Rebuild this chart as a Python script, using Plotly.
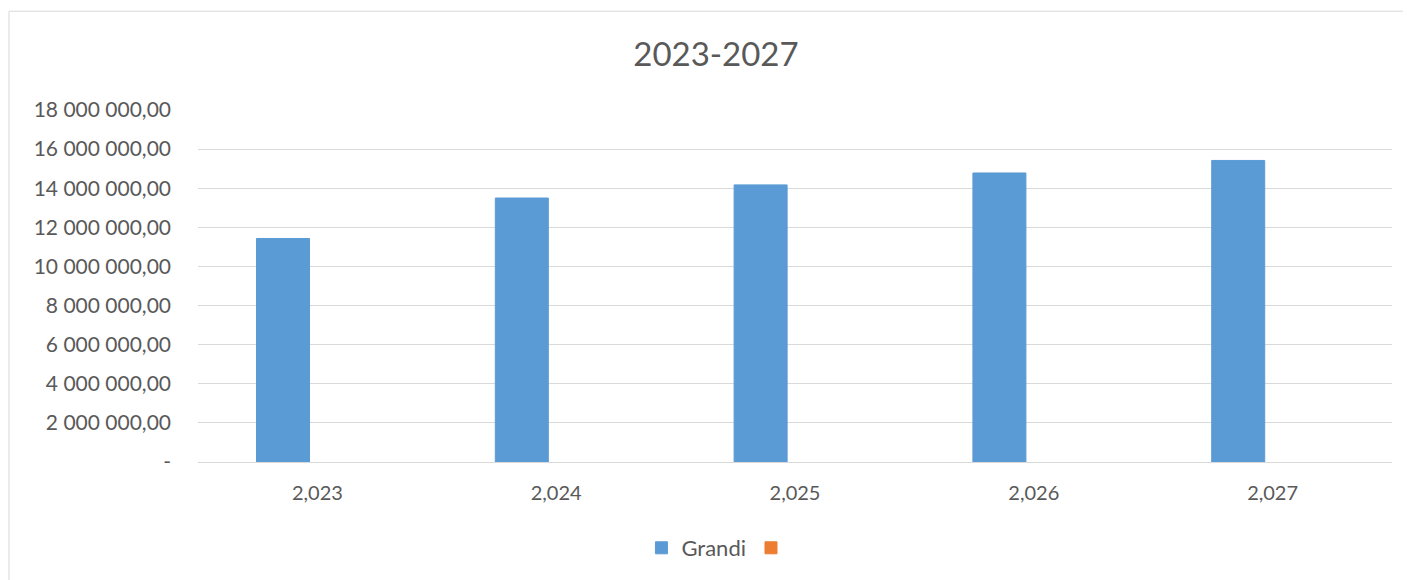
import plotly.graph_objects as go

# values
years = ["2,023", "2,024", "2,025", "2,026", "2,027"]
grandi = [11430000, 13500000, 14170000, 14780000, 15420000]
second = [None, None, None, None, None]

y_ticks = [0, 2e6, 4e6, 6e6, 8e6, 10e6, 12e6, 14e6, 16e6, 18e6]
y_labels = ["-", "2 000 000,00", "4 000 000,00", "6 000 000,00", "8 000 000,00",
            "10 000 000,00", "12 000 000,00", "14 000 000,00", "16 000 000,00",
            "18 000 000,00"]

FONT = "Lato, Open Sans, sans-serif"
GREY = "#595959"
BLUE = "#5B9BD5"
ORANGE = "#ED7D31"

fig = go.Figure()
fig.add_trace(go.Bar(x=years, y=grandi, name="Grandi",
                     marker=dict(color=BLUE, line=dict(color=BLUE, width=1)),
                     width=0.222, offset=-0.255))
fig.add_trace(go.Bar(x=years, y=second, name="",
                     marker=dict(color=ORANGE, line=dict(color=ORANGE, width=1)),
                     width=0.222, offset=0.0))

# the page adds an 8px body margin, so the figure is 8px smaller
fig.update_layout(
    width=1403, height=572,
    margin=dict(l=190, r=19, t=102, b=117),
    paper_bgcolor="white", plot_bgcolor="white",
    font=dict(family=FONT, color=GREY, size=20),
    title=dict(text="2023-2027", x=0.5046, xanchor="center", y=0.918, yanchor="middle",
               font=dict(size=33, color=GREY, family=FONT)),
    legend=dict(orientation="h", x=0.4363, xanchor="center", y=-0.2408, yanchor="middle",
                font=dict(size=22, color=GREY)),
    showlegend=True,
)
fig.update_xaxes(type="category", showgrid=False, showline=False, ticks="",
                 ticklabelstandoff=17, tickfont=dict(size=20, color=GREY))
fig.update_yaxes(range=[0, 18e6], tickvals=y_ticks, ticktext=y_labels,
                 showgrid=True, gridcolor="#D9D9D9", gridwidth=1.3,
                 zeroline=True, zerolinecolor="#D9D9D9", zerolinewidth=1.3,
                 ticks="", ticklabelstandoff=26, tickfont=dict(size=21, color=GREY))

# chart frame, as in the spreadsheet export
fig.add_shape(type="rect", xref="paper", yref="paper",
              x0=-0.1583, y0=-0.4, x1=1.05, y1=1.2805,
              line=dict(color="#D9D9D9", width=1), layer="below")

fig.write_html("out.html")
